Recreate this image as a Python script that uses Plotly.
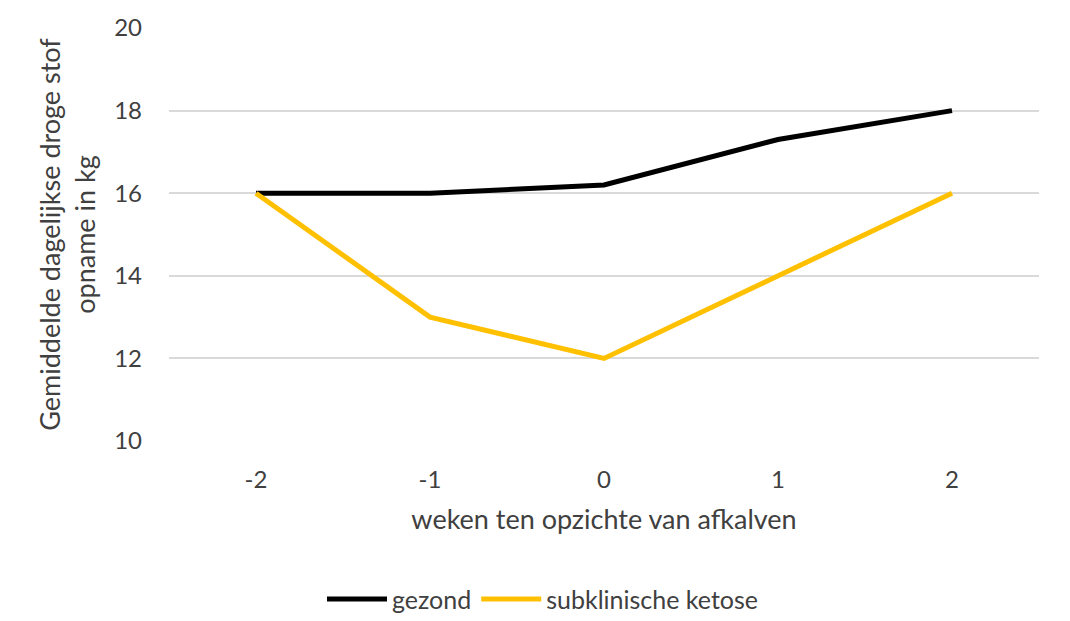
import plotly.graph_objects as go

weeks = ["-2", "-1", "0", "1", "2"]
gezond = [16.0, 16.0, 16.2, 17.3, 18.0]
ketose = [16.0, 13.0, 12.0, 14.0, 16.0]

FONT = "Lato, Calibri, sans-serif"
TEXT = "#404040"


def build_chart() -> go.Figure:
    fig = go.Figure()
    fig.add_scatter(x=weeks, y=gezond, mode="lines", name="gezond",
                    line=dict(color="#000000", width=5))
    fig.add_scatter(x=weeks, y=ketose, mode="lines", name="subklinische ketose",
                    line=dict(color="#FFC000", width=5))

    fig.update_layout(
        width=1070,
        height=621,
        margin=dict(l=161, r=39, t=20, b=188, autoexpand=False),
        paper_bgcolor="white",
        plot_bgcolor="white",
        font=dict(family=FONT, size=24, color=TEXT),
        showlegend=True,
        legend=dict(
            orientation="h",
            xref="container", yref="container",
            x=0.5, xanchor="center",
            y=0.048, yanchor="middle",
            font=dict(size=25, color=TEXT),
            itemwidth=60,
            traceorder="normal",
        ),
        xaxis=dict(
            type="category",
            range=[-0.5, 4.5],
            automargin=False,
            showgrid=False,
            showline=False,
            zeroline=False,
            ticks="",
            ticklabelstandoff=22,
            title=dict(text="weken ten opzichte van afkalven", standoff=18,
                       font=dict(size=27, color=TEXT)),
        ),
        yaxis=dict(
            range=[10, 20],
            dtick=2,
            automargin=False,
            showgrid=True,
            gridcolor="#D9D9D9",
            gridwidth=1.5,
            zeroline=False,
            showline=False,
            ticks="",
            ticklabelstandoff=26,
            title=dict(text="Gemiddelde dagelijkse droge stof<br>opname in kg",
                       standoff=10, font=dict(size=27, color=TEXT)),
        ),
    )
    return fig


fig = build_chart()
fig.write_html("out.html")
